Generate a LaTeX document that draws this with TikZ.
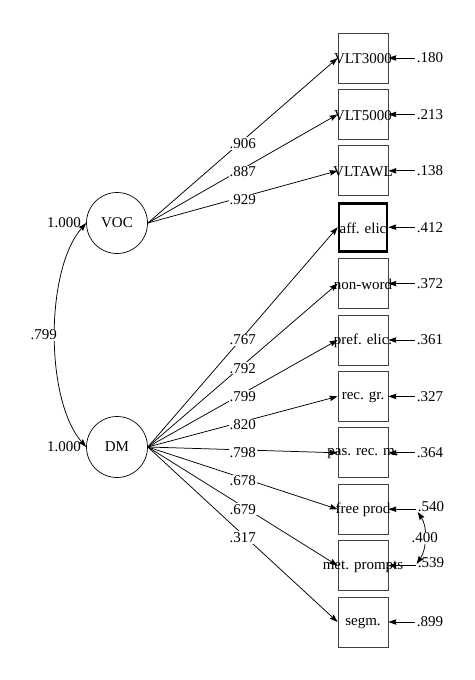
\documentclass[tikz,border=0pt]{standalone}
\usepackage{fontspec}
\setmainfont{Liberation Serif}
\usetikzlibrary{arrows.meta}
\begin{document}
\begin{tikzpicture}[x=1pt,y=-1pt,
  font=\fontsize{15}{18}\selectfont,
  every node/.style={text=black},
  obs/.style={draw=black!75, line width=0.8pt, minimum width=50pt, minimum height=50pt, inner sep=0pt},
  obsthick/.style={draw=black, line width=2.6pt, minimum width=48pt, minimum height=48pt, inner sep=0pt},
  txt/.style={inner sep=0pt},
  lat/.style={draw=black, circle, line width=0.7pt, minimum size=61pt, inner sep=0pt},
  err/.style={inner sep=2pt},
  lab/.style={fill=white, inner sep=1pt, pos=0.5, yshift=-3pt},
  arr/.style={-{Stealth[length=8pt,width=5.5pt,inset=1pt]}, line width=0.75pt},
  darr/.style={{Stealth[length=8pt,width=5.5pt,inset=1pt]}-{Stealth[length=8pt,width=5.5pt,inset=1pt]}, line width=0.75pt}]
\useasboundingbox (0,0) rectangle (474,680);

% latent variables
\node[lat] (VOC) at (117,223) {VOC};
\node[lat] (DM) at (117,447) {DM};

% observed variables (boxes)
\node[obs] (o1) at (363,58) {};
\node[obs] (o2) at (363,114.4) {};
\node[obs] (o3) at (363,170.8) {};
\node[obsthick] (o4) at (363,227.2) {};
\node[obs] (o5) at (363,283.6) {};
\node[obs] (o6) at (363,340) {};
\node[obs] (o7) at (363,396.4) {};
\node[obs] (o8) at (363,452.8) {};
\node[obs] (o9) at (363,509.2) {};
\node[obs] (o10) at (363,565.6) {};
\node[obs] (o11) at (363,622) {};

% box texts
\node[txt] (t1) at ([yshift=-1pt]o1) {VLT3000};
\node[txt] (t2) at ([yshift=-1pt]o2) {VLT5000};
\node[txt] (t3) at ([yshift=-1pt]o3) {VLTAWL};
\node[txt] (t4) at ([yshift=-1pt]o4) {aff. elic};
\node[txt] (t5) at ([yshift=-1pt]o5) {non-word};
\node[txt] (t6) at ([yshift=-1pt]o6) {pref. elic.};
\node[txt] (t7) at ([yshift=-1pt]o7) {rec. gr.};
\node[txt] (t8) at ([yshift=-1pt]o8) {pas. rec. m.};
\node[txt] (t9) at ([yshift=-1pt]o9) {free prod};
\node[txt] (t10) at ([yshift=-1pt]o10) {met. prompts};
\node[txt] (t11) at ([yshift=-1pt]o11) {segm.};

% error variances
\node[err] (e1) at (430,58) {.180};
\node[err] (e2) at (430,114.4) {.213};
\node[err] (e3) at (430,170.8) {.138};
\node[err] (e4) at (430,227.2) {.412};
\node[err] (e5) at (430,283.6) {.372};
\node[err] (e6) at (430,340) {.361};
\node[err] (e7) at (430,396.4) {.327};
\node[err] (e8) at (430,452.8) {.364};
\node[err] (e9) at (431,507) {.540};
\node[err] (e10) at (431,563) {.539};
\node[err] (e11) at (430,622) {.899};

\foreach \i in {1,...,8,11} {\draw[arr] (e\i.west) -- (o\i.east);}
\draw[arr] (e9.west |- o9.east) -- (o9.east);
\draw[arr] (e10.west |- o10.east) -- (o10.east);

% loadings
\draw[arr] (VOC.east) -- node[lab]{.906} (o1.west);
\draw[arr] (VOC.east) -- node[lab]{.887} (o2.west);
\draw[arr] (VOC.east) -- node[lab]{.929} (o3.west);

\draw[arr] (DM.east) -- node[lab]{.767} (o4.west);
\draw[arr] (DM.east) -- node[lab]{.792} (o5.west);
\draw[arr] (DM.east) -- node[lab]{.799} (o6.west);
\draw[arr] (DM.east) -- node[lab]{.820} (o7.west);
\draw[arr] (DM.east) -- node[lab]{.798} (o8.west);
\draw[arr] (DM.east) -- node[lab]{.678} (o9.west);
\draw[arr] (DM.east) -- node[lab]{.679} (o10.west);
\draw[arr] (DM.east) -- node[lab]{.317} (o11.west);

% latent variances
\node[anchor=east, inner sep=1pt] (v1) at ([xshift=-4pt]VOC.west) {1.000};
\node[anchor=east, inner sep=1pt] (v2) at ([xshift=-4pt]DM.west) {1.000};

% latent correlation
\draw[darr] (VOC.west) .. controls (45,270) and (45,400) .. node[pos=0.5, anchor=east, xshift=3pt, fill=white, inner sep=1pt] (c1) {.799} (DM.west);

% error correlation
\draw[darr] ([shift={(2pt,-5pt)}]e9.west) .. controls +(10,15) and +(10,-15) .. node[pos=0.5, fill=white, inner sep=1pt] (c2) {.400} ([shift={(1pt,-1pt)}]e10.west);
\end{tikzpicture}
\end{document}
